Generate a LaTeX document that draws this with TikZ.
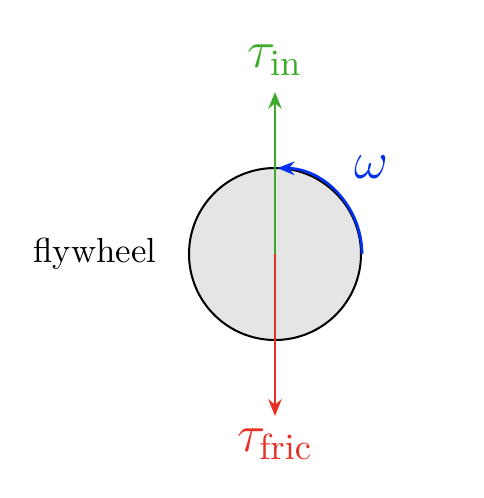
\documentclass[tikz,border=0pt]{standalone}
\usetikzlibrary{arrows.meta, positioning}
\definecolor{torquegreen}{RGB}{62,170,44}
\definecolor{frictionred}{RGB}{232,48,36}
\definecolor{spinblue}{RGB}{0,48,240}

\begin{document}
\begin{tikzpicture}[
x=0.0104cm, y=-0.0104cm,
wheel/.style={draw, semithick, circle, fill=black!10, minimum size=172*0.0104cm, inner sep=0pt},
vec/.style={-{Stealth[length=5pt, width=4pt]}, semithick},
lbl/.style={font=\Large, scale=1.08}
]
\useasboundingbox (0,0) rectangle (484,498);

\node[wheel] (wheel) at (275,254) {};
\node[scale=1.03] (name) at (95,254) {flywheel};

\coordinate (top) at (275,92);
\coordinate (bottom) at (275,416);
\node[lbl, text=torquegreen, above=1pt of top] (tauin) {$\tau_{\mathrm{in}}$};
\node[lbl, text=frictionred, below=0pt of bottom] (taufric) {$\tau_{\mathrm{fric}}$};
\node[lbl, text=spinblue] (omega) at (371,167) {$\omega$};

\draw[vec, torquegreen] (wheel.center) -- (top);
\draw[vec, frictionred] (wheel.center) -- (bottom);
\draw[vec, spinblue, thick] (wheel.east) arc[start angle=0, end angle=-89, radius=86];

\end{tikzpicture}
\end{document}
